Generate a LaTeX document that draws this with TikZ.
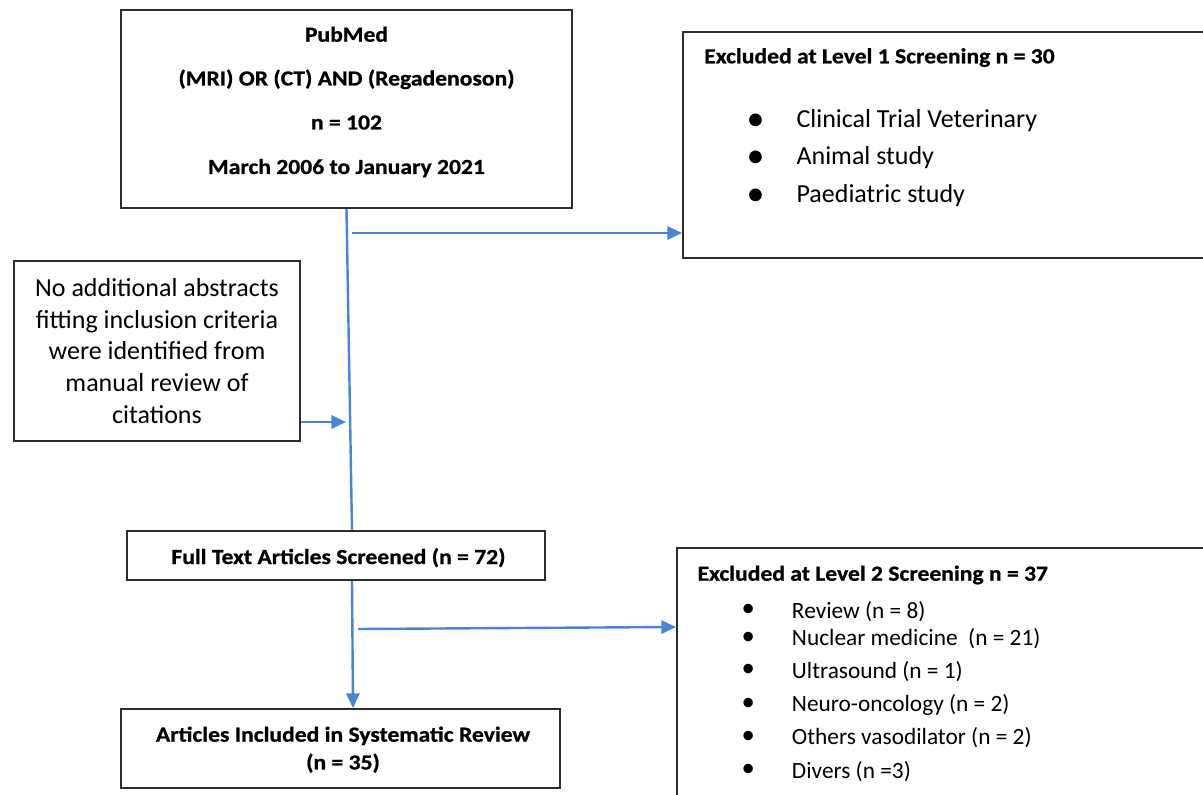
\documentclass[tikz,border=0pt]{standalone}
\usepackage{fontspec}
\setmainfont{Carlito}
\newfontfamily\headfont{Carlito}[FakeStretch=1.1, BoldFeatures={FakeBold=0.8}]
\usetikzlibrary{arrows.meta,calc}

\definecolor{framegray}{RGB}{45,45,45}
\definecolor{flowblue}{RGB}{72,134,212}
\tikzset{
  box/.style={draw=framegray, line width=1.5pt, inner sep=0pt, align=center},
  link/.style={draw=flowblue, line width=1.8pt},
  flow/.style={link, -{Triangle[length=11pt,width=10pt]}},
  boldtext/.style={inner sep=0pt, font=\headfont\bfseries\fontsize{16.1}{19}\selectfont},
  head/.style={boldtext, anchor=base west},
  item/.style={inner sep=0pt, anchor=base west},
  dot/.style={inner sep=0pt}
}

\begin{document}
\begin{tikzpicture}[x=0.75pt,y=-0.75pt]
  \useasboundingbox (0,0) rectangle (1203,795);
  \fill[white] (0,0) rectangle (1203,795);
  \clip (0,0) rectangle (1203,795);

  \node[box, minimum width=338.25pt, minimum height=148.5pt] (pubmed) at (346.5,109) {};
  \foreach \y/\t [count=\i] in {32.7/PubMed, 76.5/(MRI) OR (CT) AND (Regadenoson), 120.5/n = 102, 165/March 2006 to January 2021}
    \node[boldtext, anchor=base] (pubmedline\i) at ($(pubmed.north)+(0,\y)$) {\t};

  \node[box, minimum width=214.5pt, minimum height=135pt,
    font=\fontsize{19.5}{23.8}\selectfont] (nomore) at (157,351)
    {No additional abstracts\\fitting inclusion criteria\\were identified from\\manual review of\\citations};

  \node[box, minimum width=313.5pt, minimum height=36.75pt] (full) at (336,555.5) {};
  \node[boldtext, anchor=base] (fulltext) at ($(full.north)+(2.5,34)$) {Full Text Articles Screened (n = 72)};

  \node[box, minimum width=329.25pt, minimum height=59pt] (incl) at (340.5,748.3) {};
  \node[boldtext, anchor=base] (incltext1) at ($(incl.north)+(2.5,33.7)$) {Articles Included in Systematic Review};
  \node[boldtext, anchor=base] (incltext2) at ($(incl.north)+(2.5,61.5)$) {(n = 35)};

  \node[box, minimum width=399pt, minimum height=169.5pt] (excl1) at (949,145) {};
  \node[head] (head1) at ($(excl1.north west)+(22,32.3)$) {Excluded at Level 1 Screening n = 30};
  \foreach \y/\t [count=\i] in {97/Clinical Trial Veterinary, 133.7/Animal study, 172/Paediatric study}{
    \node[dot, font=\fontsize{27}{30}\selectfont] (bulletA\i) at ($(excl1.north west)+(73.7,\y-5.8)$) {\textbullet};
    \node[item, font=\fontsize{19.5}{23}\selectfont] (reasonA\i) at ($(excl1.north west)+(114.3,\y)$) {\t};
  }

  \node[box, minimum width=403.5pt, minimum height=200.25pt] (excl2) at (946,681.5) {};
  \node[head] (head2) at ($(excl2.north west)+(21.3,33.7)$) {Excluded at Level 2 Screening n = 37};
  \foreach \y/\t [count=\i] in {71/Review (n = 8), 98.7/Nuclear medicine~ (n = 21), 131/Ultrasound (n = 1),
      164.3/Neuro-oncology (n = 2), 197.7/Others vasodilator (n = 2), 231/Divers (n =3)}{
    \node[dot, font=\fontsize{20}{24}\selectfont] (bulletB\i) at ($(excl2.north west)+(72.3,\y-7.2)$) {\textbullet};
    \node[item, font=\fontsize{17.5}{21}\selectfont] (reasonB\i) at ($(excl2.north west)+(115.7,\y)$) {\t};
  }

  \draw[link] (pubmed.south) -- ($(full.north)+(16,0)$);
  \draw[flow] ($(pubmed.south)+(5.5,24)$) -- ($(excl1.south west)+(0,-26)$);
  \draw[flow] ($(nomore.east)+(0,71)$) -- ($(nomore.east)+(45,71)$);
  \draw[flow] ($(full.south)+(16,0)$) -- ($(incl.north)+(12.5,0)$);
  \draw[flow] ($(full.south)+(22,48)$) -- ($(excl2.north west)+(0,80)$);
\end{tikzpicture}
\end{document}
